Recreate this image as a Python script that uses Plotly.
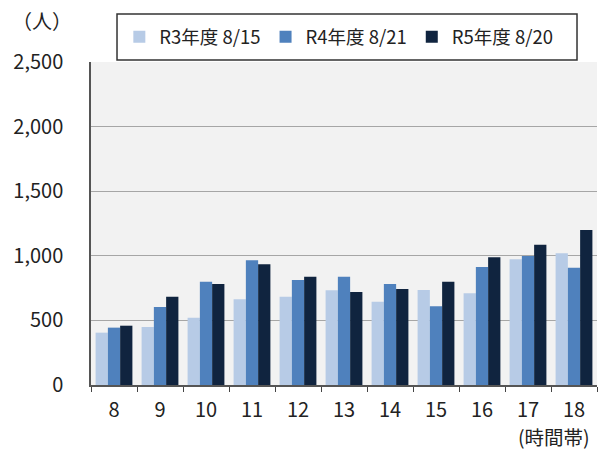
import plotly.graph_objects as go

hours = ["8", "9", "10", "11", "12", "13", "14", "15", "16", "17", "18"]
r3 = [405, 449, 521, 663, 684, 733, 645, 735, 710, 973, 1019]
r4 = [444, 604, 800, 965, 813, 838, 782, 609, 913, 998, 908]
r5 = [459, 684, 782, 934, 838, 720, 743, 800, 988, 1086, 1200]
series_names = ["R3年度 8/15", "R4年度 8/21", "R5年度 8/20"]
colors = ["#b7cbe6", "#4f81bd", "#10243f"]

FONT = "Noto Sans CJK JP"
TXT = "#222222"

fig = go.Figure()
for name, vals, c in zip(series_names, [r3, r4, r5], colors):
    fig.add_trace(go.Bar(x=hours, y=vals, name=name, marker=dict(color=c, line=dict(width=0))))

fig.update_layout(
    width=600, height=452,
    margin=dict(l=91, r=3, t=62, b=67),
    paper_bgcolor="white",
    plot_bgcolor="#f2f2f2",
    barmode="group",
    bargap=0.2,
    bargroupgap=0,
    font=dict(family=FONT, size=20, color=TXT),
    legend=dict(
        orientation="h",
        x=0.056, xanchor="left",
        y=1.077, yanchor="middle",
        bgcolor="rgba(0,0,0,0)",
        borderwidth=0,
        font=dict(family=FONT, size=18.5, color=TXT),
        itemwidth=30,
    ),
    showlegend=True,
    shapes=[dict(type="rect", xref="paper", yref="paper",
                 x0=0.0514, x1=0.9605, y0=1.006, y1=1.1486,
                 line=dict(color="#333333", width=1.5), fillcolor="white", layer="below")],
)
fig.update_xaxes(
    type="category",
    showline=True, linecolor="#555555", linewidth=1.5,
    ticks="outside", tickson="boundaries", ticklen=5, tickcolor="#444444",
    tickfont=dict(size=20),
    ticklabelstandoff=6,
    showgrid=False,
)
fig.update_yaxes(
    range=[0, 2500], dtick=500, tickformat=",",
    showline=True, linecolor="#555555", linewidth=1.5,
    gridcolor="#a6a6a6", gridwidth=1,
    tickfont=dict(size=20),
    ticks="", ticklen=0,
    ticklabelstandoff=22,
    zeroline=False,
)
fig.add_annotation(text="（人）", xref="paper", yref="paper", x=-0.097, y=1.13,
                   xanchor="center", yanchor="middle", showarrow=False,
                   font=dict(family=FONT, size=20, color=TXT))
fig.add_annotation(text="(時間帯)", xref="paper", yref="paper", x=0.99, y=-0.158,
                   xanchor="right", yanchor="middle", showarrow=False,
                   font=dict(family=FONT, size=19.5, color=TXT))

fig.write_html("out.html", config={"displayModeBar": False},
               post_script="document.body.style.margin='0';")
